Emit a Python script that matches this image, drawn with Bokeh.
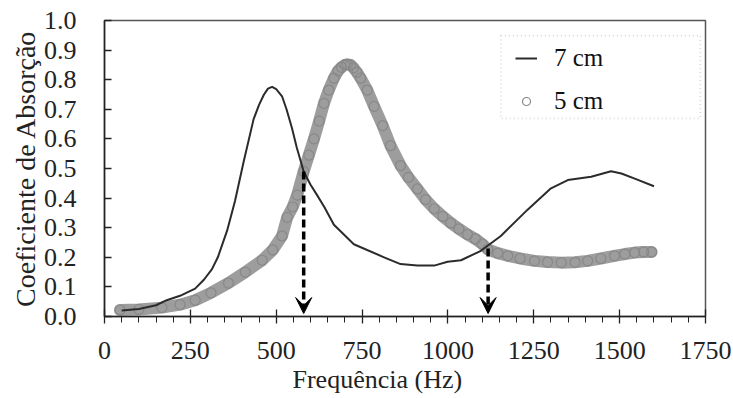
from bokeh.plotting import figure
from bokeh.models import (Range1d, FixedTicker, PrintfTickFormatter, Legend, LegendItem,
                          Arrow, VeeHead, BoxAnnotation, Title)
from bokeh.embed import file_html
from bokeh.resources import INLINE

# ---- data ----
freq_7cm = [50, 100, 150, 181, 220, 264, 290, 313, 330, 357, 380, 405, 434, 450, 464,
            476, 488, 500, 517, 530, 546, 560, 580, 600, 619, 640, 668, 726, 814, 862,
            911, 960, 999, 1038, 1096, 1154, 1232, 1300, 1349, 1417, 1475, 1505, 1544,
            1600]
abs_7cm = [0.020, 0.025, 0.038, 0.055, 0.070, 0.094, 0.125, 0.160, 0.200, 0.290, 0.390,
           0.522, 0.666, 0.715, 0.749, 0.770, 0.776, 0.768, 0.744, 0.700, 0.636, 0.570,
           0.490, 0.445, 0.410, 0.370, 0.310, 0.244, 0.200, 0.177, 0.172, 0.172, 0.185,
           0.190, 0.222, 0.272, 0.361, 0.433, 0.461, 0.472, 0.491, 0.483, 0.466, 0.440]

freq_5cm = [45, 100, 167, 220, 264, 310, 361, 410, 459, 490, 517, 532, 548, 561, 580,
            595, 610, 625, 639, 653, 668, 680, 690, 700, 707, 716, 725, 735, 746, 765,
            785, 810, 833, 862, 885, 911, 935, 960, 985, 1008, 1032, 1057, 1080, 1100,
            1116, 1145, 1174, 1210, 1252, 1290, 1330, 1370, 1407, 1445, 1485, 1515,
            1544, 1570, 1593]
abs_5cm = [0.022, 0.024, 0.030, 0.040, 0.055, 0.080, 0.113, 0.150, 0.190, 0.225, 0.272,
           0.335, 0.370, 0.410, 0.490, 0.545, 0.600, 0.660, 0.720, 0.765, 0.805, 0.830,
           0.842, 0.850, 0.852, 0.850, 0.840, 0.825, 0.805, 0.765, 0.710, 0.645, 0.577,
           0.510, 0.470, 0.431, 0.395, 0.364, 0.338, 0.316, 0.296, 0.277, 0.262, 0.245,
           0.227, 0.214, 0.205, 0.196, 0.188, 0.184, 0.182, 0.183, 0.188, 0.196, 0.205,
           0.211, 0.216, 0.218, 0.218]

arrow_freqs = [580, 1117]
arrow_tops = [0.49, 0.23]

x_ticks = [0, 250, 500, 750, 1000, 1250, 1500, 1750]
x_minor_ticks = list(range(0, 1751, 50))
y_ticks = [0.0, 0.1, 0.2, 0.3, 0.4, 0.5, 0.6, 0.7, 0.8, 0.9, 1.0]

FONT = "Liberation Serif"

p = figure(width=733, height=398, output_backend="svg", toolbar_location=None,
           x_range=Range1d(0, 1750), y_range=Range1d(0, 1.0),
           min_border_left=104, min_border_right=28, min_border_top=20,
           min_border_bottom=82, background_fill_color="white",
           border_fill_color="white")
p.xgrid.grid_line_color = None
p.ygrid.grid_line_color = None
p.outline_line_color = "#555555"
p.outline_line_width = 1.5

# x axis
xa = p.xaxis[0]
xa.ticker = FixedTicker(ticks=x_ticks, minor_ticks=x_minor_ticks)
xa.formatter = PrintfTickFormatter(format="%d")
xa.major_tick_in = 7
xa.major_tick_out = 7
xa.minor_tick_in = 0
xa.minor_tick_out = 6
xa.axis_line_color = "#222222"
xa.axis_line_width = 1.5
xa.major_tick_line_color = "#222222"
xa.minor_tick_line_color = "#222222"
xa.major_tick_line_width = 1.3
xa.major_label_text_font = FONT
xa.major_label_text_font_size = "26px"
xa.major_label_text_color = "#222222"
xa.major_label_standoff = 18

# y axis
ya = p.yaxis[0]
ya.ticker = FixedTicker(ticks=y_ticks)
ya.formatter = PrintfTickFormatter(format="%.1f")
ya.major_tick_in = 7
ya.major_tick_out = 0
ya.minor_tick_line_color = None
ya.axis_line_color = "#222222"
ya.axis_line_width = 1.5
ya.major_tick_line_color = "#222222"
ya.major_tick_line_width = 1.3
ya.major_label_text_font = FONT
ya.major_label_text_font_size = "26px"
ya.major_label_text_color = "#222222"
ya.major_label_standoff = 28
ya.axis_label = "Coeficiente de Absorção"
ya.axis_label_text_font = FONT
ya.axis_label_text_font_size = "28px"
ya.axis_label_text_font_style = "normal"
ya.axis_label_text_color = "#222222"
ya.axis_label_standoff = 0

# 5 cm series: dense band of open circles
p.line(freq_5cm, abs_5cm, line_width=12, color="#9d9d9d",
       line_cap="round", line_join="round")
circ = p.scatter(freq_5cm, abs_5cm, marker="circle", size=10, fill_color=None,
                 line_color="#888888", line_width=1.2)

# 7 cm series
line7 = p.line(freq_7cm, abs_7cm, line_width=2, color="#2b2b2b",
               line_join="round")

# dashed arrows
for f, top in zip(arrow_freqs, arrow_tops):
    p.add_layout(Arrow(end=VeeHead(size=16, fill_color="black", line_color="black",
                                   line_width=1),
                       x_start=f, y_start=top, x_end=f, y_end=0.01,
                       line_width=3.5, line_dash="8 4", line_color="black"))

# legend box (dotted)
p.add_layout(BoxAnnotation(left=1154, right=1735, top=0.949, bottom=0.669,
                           fill_alpha=0, line_color="#777777", line_dash="1 3",
                           line_width=1.6))

legend = Legend(items=[LegendItem(label="7 cm", renderers=[line7]),
                       LegendItem(label="5 cm", renderers=[circ])],
                location=(411, 196), label_text_font=FONT,
                label_text_font_size="25px", label_text_color="#111111",
                glyph_width=22, glyph_height=20, label_standoff=17,
                spacing=5, padding=2, label_height=38,
                border_line_color=None, background_fill_alpha=0)
p.add_layout(legend)

# x axis title (slightly left of centre, as in the reference)
p.add_layout(Title(text="Frequência (Hz)", align="left", offset=188,
                   text_font=FONT, text_font_size="26px",
                   text_font_style="normal", text_color="#222222",
                   standoff=2), "below")

open("out.html", "w").write(file_html(p, INLINE))
